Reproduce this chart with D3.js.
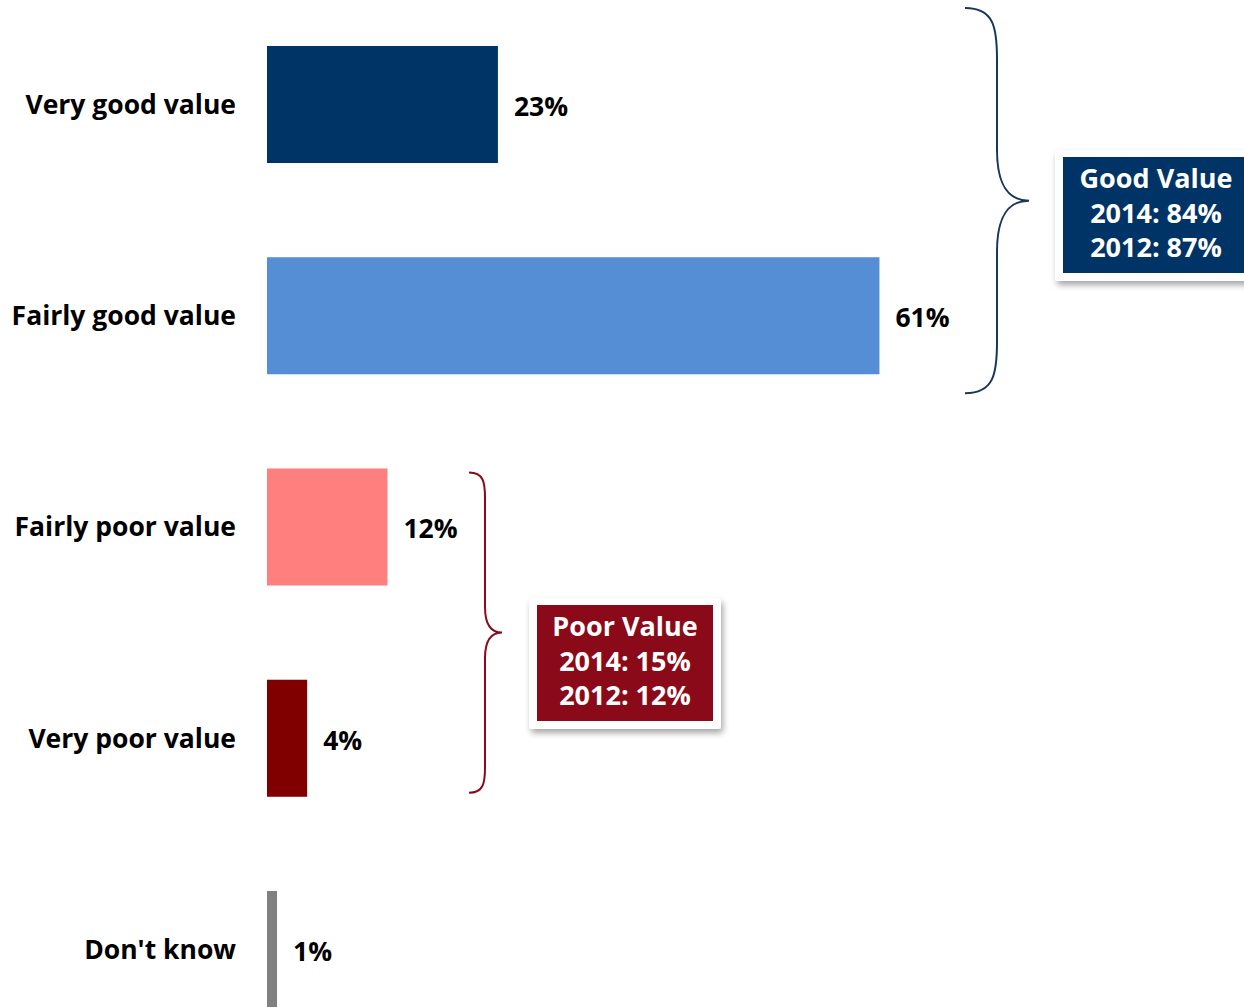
<!DOCTYPE html>
<html>
<head>
<meta charset="utf-8">
<script src="https://cdn.jsdelivr.net/npm/d3@7"></script>
<style>
  html, body { margin: 0; padding: 0; background: #ffffff; }
  svg { display: block; }
  text { font-family: "Open Sans", Lato, sans-serif; font-weight: 700; }
</style>
</head>
<body>
<svg id="chart" width="1244" height="1007"></svg>
<script>
// Survey responses: perceived value
const categories = ["Very good value", "Fairly good value", "Fairly poor value", "Very poor value", "Don't know"];
const values = [23, 61, 12, 4, 1];
const barColors = ["#003366", "#558ed5", "#ff7f7f", "#800000", "#808080"];

// Summary callouts
const goodLines = ["Good Value", "2014: 84%", "2012: 87%"];
const poorLines = ["Poor Value", "2014: 15%", "2012: 12%"];

const svg = d3.select("#chart");

const x = d3.scaleLinear().domain([0, 100]).range([267, 1271]);
const y = d3.scaleBand().domain(categories).range([46, 1008]).paddingInner(0.446).paddingOuter(0);

const defs = svg.append("defs");
const f = defs.append("filter").attr("id", "shadow")
  .attr("x", "-20%").attr("y", "-20%").attr("width", "140%").attr("height", "150%");
f.append("feDropShadow").attr("dx", 2).attr("dy", 4).attr("stdDeviation", 3)
  .attr("flood-color", "#000").attr("flood-opacity", 0.35);

// Bars
svg.selectAll("rect.bar").data(categories).join("rect")
  .attr("class", "bar")
  .attr("x", x(0))
  .attr("y", d => y(d))
  .attr("width", (d, i) => x(values[i]) - x(0))
  .attr("height", y.bandwidth())
  .attr("fill", (d, i) => barColors[i]);

// Category labels
svg.selectAll("text.cat").data(categories).join("text")
  .attr("class", "cat")
  .attr("x", 236)
  .attr("y", d => y(d) + y.bandwidth() / 2)
  .attr("dy", "0.35em")
  .attr("text-anchor", "end")
  .attr("font-size", 26.5)
  .attr("fill", "#000")
  .text(d => d);

// Value labels
svg.selectAll("text.val").data(categories).join("text")
  .attr("class", "val")
  .attr("x", (d, i) => x(values[i]) + 16)
  .attr("y", d => y(d) + y.bandwidth() / 2 + 2)
  .attr("dy", "0.35em")
  .attr("font-size", 26.5)
  .attr("fill", "#000")
  .text((d, i) => values[i] + "%");

// Curly brace opening to the left, pointing right
function brace(xTip, xMid, xPoint, yTop, yBot) {
  const yc = (yTop + yBot) / 2;
  const r = Math.min(xMid - xTip, 40);
  const p = d3.path();
  p.moveTo(xTip, yTop);
  p.bezierCurveTo(xMid - r * 0.1, yTop, xMid, yTop + r * 0.6, xMid, yTop + r * 1.6);
  p.lineTo(xMid, yc - r * 1.6);
  p.bezierCurveTo(xMid, yc - r * 0.4, xPoint - r * 0.6, yc, xPoint, yc);
  p.bezierCurveTo(xPoint - r * 0.6, yc, xMid, yc + r * 0.4, xMid, yc + r * 1.6);
  p.lineTo(xMid, yBot - r * 1.6);
  p.bezierCurveTo(xMid, yBot - r * 0.6, xMid - r * 0.1, yBot, xTip, yBot);
  return p.toString();
}

const goodTop = y(categories[0]) - 38, goodBot = y(categories[1]) + y.bandwidth() + 19;
svg.append("path")
  .attr("d", brace(965, 997, 1029, goodTop, goodBot))
  .attr("fill", "none").attr("stroke", "#17375e").attr("stroke-width", 2);

const poorTop = y(categories[2]) + 4, poorBot = y(categories[3]) + y.bandwidth() - 4;
svg.append("path")
  .attr("d", brace(469, 485, 502, poorTop, poorBot))
  .attr("fill", "none").attr("stroke", "#8b0a1a").attr("stroke-width", 2);

// Callout boxes
function callout(bx, by, bw, bh, fill, lines, cx) {
  const g = svg.append("g");
  g.append("rect").attr("x", bx - 8).attr("y", by - 7).attr("width", bw + 16).attr("height", bh + 15)
    .attr("rx", 3).attr("fill", "#fff").attr("filter", "url(#shadow)");
  g.append("rect").attr("x", bx).attr("y", by).attr("width", bw).attr("height", bh).attr("fill", fill);
  g.selectAll("text").data(lines).join("text")
    .attr("x", cx)
    .attr("y", (d, i) => by + 22 + i * 34.5)
    .attr("dy", "0.35em")
    .attr("text-anchor", "middle")
    .attr("font-size", 27)
    .attr("fill", "#fff")
    .text(d => d);
}

callout(1063, 157, 190, 116, "#003366", goodLines, 1156);
callout(537, 605, 176, 116, "#8b0a1a", poorLines, 625);
</script>
</body>
</html>
